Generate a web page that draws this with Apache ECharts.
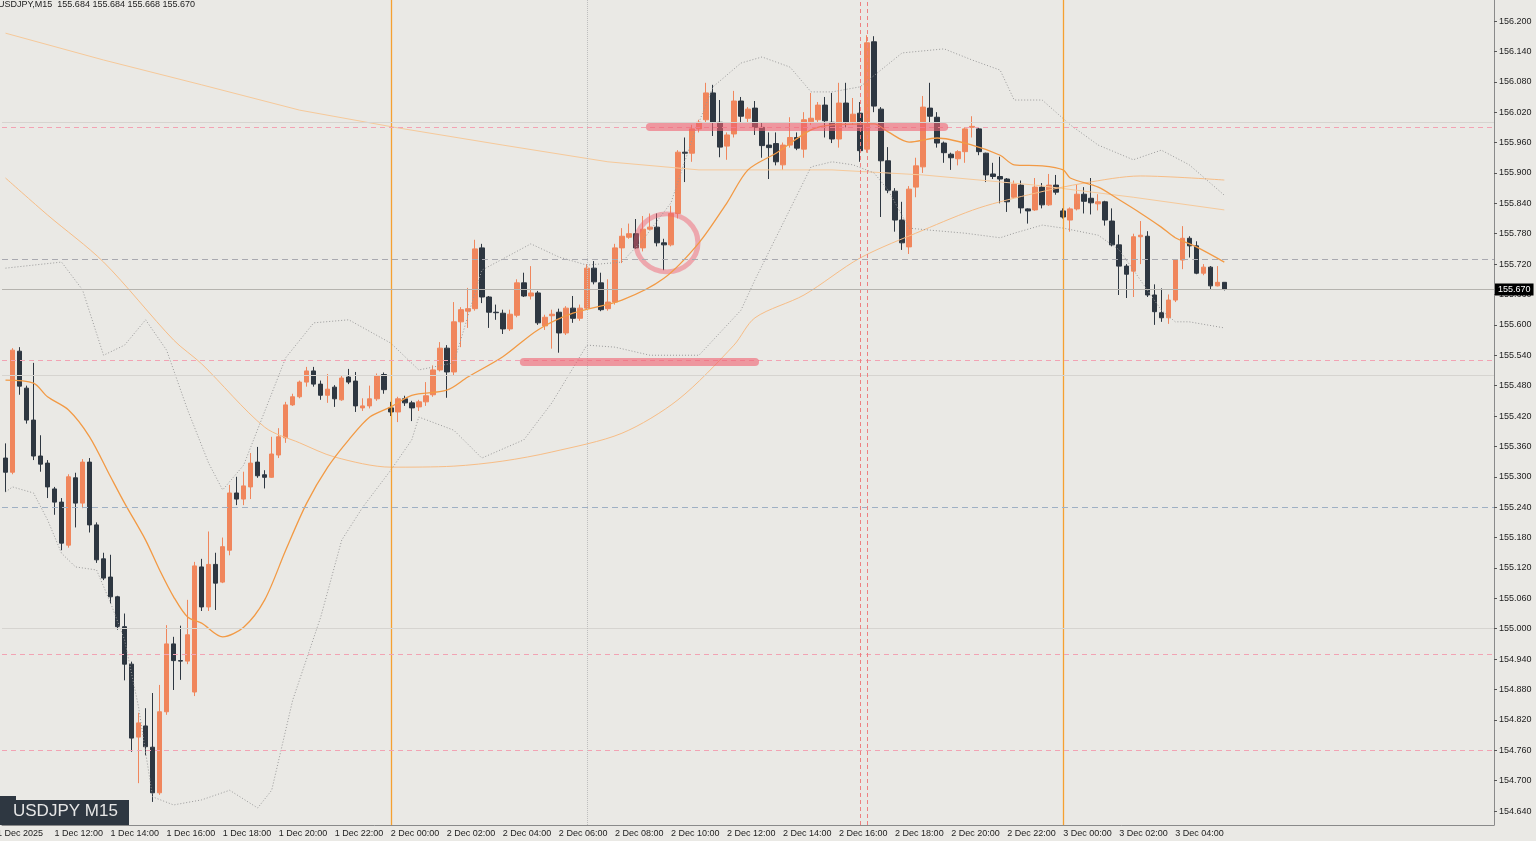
<!DOCTYPE html>
<html>
<head>
<meta charset="utf-8">
<script src="https://cdn.jsdelivr.net/npm/echarts@6/dist/echarts.min.js"></script>
<style>
html,body{margin:0;padding:0;background:#eae9e5;}
#chart{width:1536px;height:841px;}
</style>
</head>
<body>
<div id="chart"></div>
<script>
// USDJPY M15, first bar 1 Dec 10:15
var openP=[155.337,155.309,155.548,155.475,155.412,155.341,155.327,155.276,155.250,155.165,155.298,155.248,155.329,155.205,155.138,155.102,155.063,155.004,154.930,154.786,
154.808,154.766,154.676,154.836,154.970,154.937,154.936,154.875,155.122,155.043,155.127,155.092,155.155,155.268,155.256,155.280,155.329,155.304,155.299,155.343,
155.377,155.442,155.458,155.487,155.509,155.483,155.461,155.477,155.452,155.497,155.489,155.436,155.440,155.454,155.502,155.436,155.428,155.454,155.446,155.438,
155.448,155.462,155.511,155.554,155.507,155.606,155.627,155.632,155.752,155.655,155.625,155.623,155.592,155.619,155.683,155.657,155.663,155.598,155.618,155.625,
155.584,155.633,155.613,155.633,155.712,155.683,155.632,155.645,155.752,155.773,155.780,155.752,155.789,155.793,155.762,155.758,155.820,155.941,155.939,155.987,
156.005,156.058,156.000,155.953,155.977,156.042,156.008,156.028,155.990,155.955,155.958,155.916,155.955,155.970,155.947,156.001,156.005,156.034,156.000,155.967,
156.038,156.000,156.018,155.947,156.159,156.026,155.924,155.864,155.807,155.754,155.872,155.912,156.028,156.010,155.959,155.937,155.928,155.942,155.990,155.987,
155.939,155.898,155.893,155.888,155.852,155.876,155.829,155.827,155.872,155.837,155.876,155.825,155.807,155.829,155.858,155.850,155.839,155.843,155.805,155.758,
155.716,155.706,155.774,155.775,155.659,155.624,155.614,155.649,155.728,155.771,155.756,155.702,155.714,155.677,155.684];
var highP=[155.366,155.554,155.556,155.480,155.525,155.382,155.333,155.280,155.258,155.305,155.308,155.335,155.337,155.210,155.150,155.146,155.065,155.030,154.935,154.834,
154.843,154.873,154.889,155.007,154.984,155.006,155.057,155.132,155.138,155.192,155.150,155.180,155.284,155.300,155.310,155.347,155.359,155.313,155.379,155.396,
155.448,155.464,155.490,155.517,155.517,155.490,155.503,155.481,155.500,155.513,155.507,155.455,155.480,155.504,155.506,155.448,155.458,155.460,155.450,155.452,
155.487,155.520,155.566,155.560,155.645,155.635,155.673,155.768,155.760,155.657,155.640,155.630,155.630,155.690,155.703,155.716,155.667,155.620,155.630,155.632,
155.637,155.657,155.640,155.720,155.726,155.703,155.690,155.760,155.791,155.800,155.809,155.815,155.820,155.820,155.770,155.835,155.945,155.970,155.995,156.005,
156.078,156.074,156.044,155.980,156.062,156.050,156.030,156.042,156.000,155.980,155.980,155.960,156.010,155.980,156.020,156.058,156.040,156.050,156.058,156.078,
156.078,156.048,156.040,156.172,156.170,156.030,155.951,155.870,155.843,155.874,155.930,156.052,156.078,156.020,155.962,155.940,155.945,155.990,156.012,155.990,
155.940,155.920,155.932,155.890,155.885,155.885,155.830,155.890,155.880,155.898,155.896,155.830,155.832,155.878,155.872,155.890,155.858,155.845,155.830,155.778,
155.720,155.780,155.805,155.785,155.680,155.672,155.660,155.730,155.795,155.775,155.765,155.720,155.716,155.716,155.684];
var lowP=[155.270,155.305,155.462,155.405,155.333,155.310,155.258,155.225,155.155,155.160,155.200,155.238,155.190,155.130,155.096,155.050,154.998,154.898,154.757,154.695,
154.750,154.658,154.672,154.830,154.879,154.899,154.930,154.867,155.035,155.035,155.037,155.090,155.145,155.244,155.244,155.256,155.298,155.277,155.298,155.337,
155.367,155.440,155.455,155.478,155.478,155.452,155.446,155.438,155.450,155.483,155.428,155.430,155.435,155.450,155.464,155.420,155.408,155.440,155.410,155.430,
155.440,155.458,155.508,155.456,155.500,155.556,155.594,155.628,155.643,155.594,155.610,155.582,155.588,155.615,155.655,155.650,155.600,155.590,155.553,155.545,
155.580,155.604,155.608,155.630,155.680,155.627,155.628,155.640,155.722,155.770,155.750,155.745,155.787,155.755,155.708,155.755,155.810,155.882,155.922,155.980,
156.000,155.973,155.931,155.926,155.970,156.000,156.000,155.975,155.930,155.888,155.915,155.906,155.950,155.945,155.930,155.995,156.000,155.970,155.959,155.950,
155.990,155.995,155.922,155.940,156.020,155.813,155.860,155.784,155.748,155.740,155.852,155.900,156.000,155.950,155.920,155.906,155.915,155.920,155.970,155.935,
155.882,155.888,155.840,155.823,155.850,155.820,155.800,155.825,155.830,155.835,155.857,155.810,155.784,155.826,155.820,155.818,155.826,155.796,155.755,155.659,
155.653,155.655,155.720,155.655,155.600,155.606,155.602,155.645,155.710,155.733,155.700,155.698,155.670,155.676,155.668];
var closeP=[155.309,155.550,155.479,155.412,155.341,155.325,155.280,155.250,155.169,155.300,155.248,155.329,155.205,155.136,155.100,155.063,155.004,154.930,154.784,154.814,
154.767,154.676,154.836,154.970,154.937,154.936,154.988,155.124,155.043,155.127,155.090,155.162,155.268,155.256,155.282,155.327,155.302,155.299,155.345,155.379,
155.442,155.458,155.487,155.509,155.483,155.461,155.473,155.454,155.495,155.487,155.440,155.440,155.454,155.500,155.472,155.428,155.454,155.446,155.436,155.448,
155.460,155.511,155.554,155.507,155.606,155.630,155.632,155.750,155.655,155.625,155.624,155.592,155.621,155.683,155.657,155.663,155.604,155.615,155.621,155.584,
155.633,155.613,155.633,155.712,155.685,155.630,155.645,155.752,155.775,155.780,155.752,155.789,155.793,155.762,155.758,155.820,155.941,155.939,155.987,156.000,
156.058,156.000,155.951,155.975,156.042,156.012,156.026,155.990,155.954,155.950,155.922,155.955,155.970,155.949,156.005,156.008,156.034,156.003,155.967,156.038,
156.000,156.016,155.944,156.157,156.032,155.924,155.866,155.807,155.762,155.868,155.914,156.030,156.012,155.959,155.940,155.930,155.942,155.987,155.992,155.942,
155.896,155.893,155.888,155.843,155.878,155.831,155.825,155.872,155.837,155.876,155.862,155.813,155.829,155.858,155.844,155.841,155.843,155.807,155.758,155.716,
155.700,155.774,155.777,155.659,155.626,155.614,155.649,155.728,155.771,155.756,155.702,155.714,155.677,155.684,155.670];

// indicator lines as [bar index, price]
var maFast=[[0,155.491],[4,155.485],[6,155.458],[9,155.432],[12,155.379],[15,155.300],[17,155.248],[20,155.175],[22,155.116],[24,155.063],[26,155.023],[28,155.011],[31,154.984],[34,155.003],[37,155.057],[40,155.155],[43,155.248],[46,155.319],[49,155.373],[52,155.418],[55,155.438],[58,155.461],[63,155.471],[66,155.497],[71,155.537],[76,155.590],[81,155.623],[88,155.649],[94,155.692],[99,155.762],[103,155.841],[106,155.906],[110,155.939],[115,155.985],[118,155.995],[124,155.997],[126,155.981],[129,155.961],[133,155.969],[138,155.955],[142,155.935],[144,155.916],[148,155.914],[151,155.906],[152,155.890],[156,155.872],[159,155.847],[162,155.821],[165,155.793],[167,155.772],[170,155.754],[174,155.724]];
var maSlow=[[0,155.890],[6,155.817],[14,155.724],[24,155.570],[28,155.523],[37,155.398],[42,155.367],[47,155.339],[55,155.319],[64,155.321],[71,155.331],[78,155.349],[88,155.386],[96,155.452],[104,155.560],[107,155.614],[114,155.659],[122,155.732],[131,155.787],[139,155.831],[147,155.860],[154,155.880],[162,155.894],[174,155.886]];
var ma200=[[0,156.176],[14,156.123],[28,156.074],[42,156.024],[56,155.989],[71,155.955],[86,155.922],[99,155.906],[118,155.906],[131,155.896],[147,155.876],[161,155.852],[174,155.827]];
var bbUpper=[[0,155.712],[4,155.718],[8,155.724],[11,155.669],[14,155.540],[17,155.560],[20,155.610],[23,155.550],[26,155.432],[29,155.327],[31,155.274],[34,155.323],[40,155.535],[44,155.604],[49,155.610],[55,155.564],[59,155.511],[64,155.525],[68,155.708],[75,155.760],[79,155.734],[83,155.718],[88,155.724],[91,155.768],[95,155.841],[98,155.965],[101,156.070],[105,156.117],[108,156.129],[112,156.109],[115,156.060],[118,156.060],[122,156.070],[128,156.137],[134,156.145],[138,156.123],[142,156.103],[144,156.044],[148,156.044],[152,155.995],[156,155.955],[161,155.926],[165,155.945],[169,155.916],[174,155.856]];
var bbLower=[[0,155.270],[1,155.280],[4,155.268],[6,155.215],[8,155.149],[10,155.122],[13,155.116],[15,155.051],[17,154.978],[19,154.845],[21,154.668],[24,154.652],[28,154.662],[32,154.681],[36,154.646],[38,154.681],[41,154.859],[45,155.023],[48,155.175],[51,155.240],[55,155.313],[58,155.373],[59,155.418],[64,155.392],[68,155.337],[74,155.373],[78,155.446],[83,155.560],[87,155.556],[92,155.540],[99,155.540],[105,155.629],[107,155.689],[115,155.912],[118,155.922],[121,155.916],[124,155.900],[126,155.866],[129,155.791],[132,155.787],[137,155.781],[142,155.772],[144,155.781],[148,155.797],[151,155.791],[156,155.777],[159,155.748],[162,155.689],[165,155.629],[167,155.606],[169,155.606],[174,155.594]];

var pinkLevels=[155.991,155.531,154.952,154.764];
var grayLevels=[155.734];
var blueLevels=[155.244];
var roundLevels=[156.000,155.500,155.000];
var lastPrice=155.670;
var dayBreaks=[55,151];
var yTicks=[];
for (var t=0;t<=26;t++) yTicks.push(+(154.64+0.06*t).toFixed(3));

var nSlots=213;
var months=['Jan','Feb','Mar','Apr','May','Jun','Jul','Aug','Sep','Oct','Nov','Dec'];
var cats=[];
var start=Date.UTC(2025,11,1,10,15);
for (var i=0;i<nSlots;i++){
    var d=new Date(start+i*15*60000);
    var hh=('0'+d.getUTCHours()).slice(-2), mm=('0'+d.getUTCMinutes()).slice(-2);
    cats.push(d.getUTCDate()+' '+months[d.getUTCMonth()]+' '+hh+':'+mm);
}
var xLabelIdx=[];
for (var k=7;k<=167;k+=8) xLabelIdx.push(k);

var candles=[];
for (var i=0;i<openP.length;i++) candles.push([openP[i],closeP[i],lowP[i],highP[i]]);

var marks=[];
roundLevels.forEach(function(v){marks.push({yAxis:v,lineStyle:{color:'#d6d4d0',type:'solid',width:1}});});
pinkLevels.forEach(function(v){marks.push({yAxis:v,lineStyle:{color:'#f2a3b3',type:[5,4],width:1}});});
grayLevels.forEach(function(v){marks.push({yAxis:v,lineStyle:{color:'#a9a9b0',type:[6,4],width:1}});});
blueLevels.forEach(function(v){marks.push({yAxis:v,lineStyle:{color:'#9fb0c4',type:[6,4],width:1}});});
marks.push({xAxis:83,lineStyle:{color:'#bdbdbd',type:'dotted',width:1}});
marks.push({xAxis:122,lineStyle:{color:'#ee8080',type:[4,3],width:1}});
marks.push({xAxis:123,lineStyle:{color:'#ee8080',type:[4,3],width:1}});
marks.push({yAxis:lastPrice,lineStyle:{color:'#b5b3ae',type:'solid',width:1},
    label:{show:true,position:'end',formatter:'155.670',backgroundColor:'#000',color:'#fff',
        fontSize:9,fontFamily:'Liberation Sans',padding:[2,3,1,3],distance:1}});
// hand-drawn highlights
var hl={color:'rgba(240,96,112,0.6)',type:'solid',width:8,cap:'round'};
marks.push([{coord:[92,155.991],lineStyle:hl},{coord:[134,155.991]}]);
marks.push([{coord:[74,155.527],lineStyle:hl},{coord:[107,155.527]}]);

var dayMarks=dayBreaks.map(function(v){return {xAxis:v};});

var chart=echarts.init(document.getElementById('chart'));
var option={
    backgroundColor:'#eae9e5',
    animation:false,
    grid:{left:2,right:42,top:0,bottom:16},
    xAxis:{
        type:'category',data:cats,boundaryGap:true,
        axisLine:{lineStyle:{color:'#8a8a8a'}},
        axisTick:{customValues:xLabelIdx,length:3,lineStyle:{color:'#555'}},
        axisLabel:{customValues:xLabelIdx,align:'left',margin:4,fontSize:9,color:'#222',fontFamily:'Liberation Sans'},
        splitLine:{show:false}
    },
    yAxis:{
        type:'value',position:'right',scale:true,min:154.6124,max:156.2415,
        axisLine:{show:true,lineStyle:{color:'#8a8a8a'}},
        axisTick:{show:true,customValues:yTicks,length:3,lineStyle:{color:'#555'}},
        axisLabel:{customValues:yTicks,margin:5,fontSize:9,color:'#222',fontFamily:'Liberation Sans',
            formatter:function(v){return v.toFixed(3);}},
        splitLine:{show:false}
    },
    series:[
        {type:'line',data:ma200,showSymbol:false,silent:true,lineStyle:{color:'#f6c99a',width:1},
            markLine:{symbol:'none',silent:true,label:{show:false},
                lineStyle:{color:'#f5a030',type:'solid',width:1.3,opacity:1},data:dayMarks}},
        {type:'line',data:maSlow,showSymbol:false,silent:true,smooth:0.3,lineStyle:{color:'#f7bd86',width:1}},
        {type:'line',data:bbUpper,showSymbol:false,silent:true,lineStyle:{color:'#9a9a9a',width:1,type:[1,2]}},
        {type:'line',data:bbLower,showSymbol:false,silent:true,lineStyle:{color:'#9a9a9a',width:1,type:[1,2]}},
        {type:'line',data:maFast,showSymbol:false,silent:true,smooth:0.3,lineStyle:{color:'#f29a45',width:1.3}},
        {type:'candlestick',data:candles,barWidth:5,
            itemStyle:{color:'#f0865c',color0:'#2e3741',borderColor:'#f0865c',borderColor0:'#2e3741',borderWidth:1},
            markLine:{symbol:'none',silent:true,label:{show:false},data:marks}},
        {type:'scatter',data:[[95,155.762]],symbol:'circle',symbolSize:[62,58],symbolOffset:[-4,0],silent:true,
            itemStyle:{color:'rgba(0,0,0,0)',borderColor:'rgba(240,96,112,0.6)',borderWidth:5}}
    ],
    graphic:[
        {type:'text',left:-2,top:0,style:{text:'USDJPY,M15  155.684 155.684 155.668 155.670',fontSize:9,fill:'#222',fontFamily:'Liberation Sans'}},
        {type:'rect',left:0,top:796,shape:{width:16,height:5},style:{fill:'#2e3741'}},
        {type:'rect',left:0,top:800,shape:{width:129,height:25},style:{fill:'#2e3741'}},
        {type:'text',left:13,top:803,style:{text:'USDJPY M15',fontSize:17,fill:'#e6e6e6',fontFamily:'Liberation Sans'}},
        {type:'text',left:-3,top:829,style:{text:'1 Dec 2025',fontSize:9,fill:'#222',fontFamily:'Liberation Sans'}}
    ]
};
chart.setOption(option);
</script>
</body>
</html>
